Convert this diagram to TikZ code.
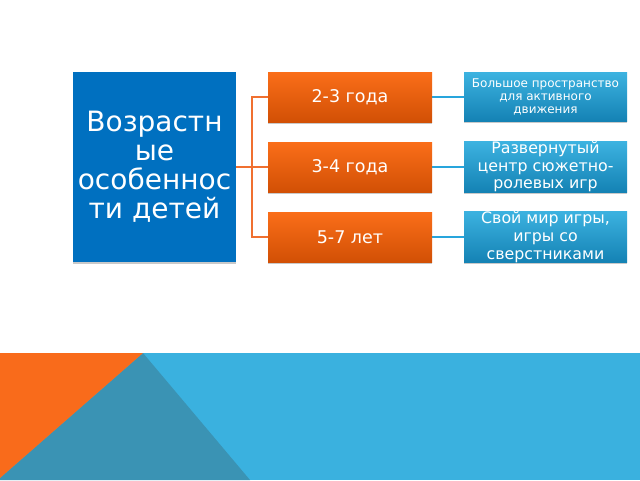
\documentclass[tikz,border=0pt]{standalone}
\usepackage{fontspec}
\setmainfont{DejaVu Sans}
\usetikzlibrary{shadows,backgrounds}
\pgfdeclarelayer{back}
\pgfsetlayers{back,background,main}
\definecolor{mainblue}{RGB}{0,112,192}
\definecolor{orangetop}{RGB}{250,110,25}
\definecolor{orangebot}{RGB}{210,80,5}
\definecolor{bluetop}{RGB}{60,178,224}
\definecolor{bluebot}{RGB}{20,130,180}
\definecolor{orangeline}{RGB}{240,112,48}
\definecolor{blueline}{RGB}{40,165,220}
\definecolor{bandblue}{RGB}{58,177,223}
\definecolor{bandteal}{RGB}{58,147,180}
\definecolor{bandorange}{RGB}{249,107,27}
\tikzset{
  boxshadow/.style={drop shadow={shadow xshift=0pt, shadow yshift=-1.5pt, opacity=0.35, fill=black!60}},
  mainbox/.style={fill=mainblue, text=white, minimum width=163pt, minimum height=190pt, inner sep=0pt, align=center, font=\fontsize{28}{29}\selectfont, boxshadow},
  agebox/.style={top color=orangetop, bottom color=orangebot, text=white, minimum width=164pt, minimum height=50pt, inner sep=0pt, align=center, font=\fontsize{17.5}{19}\selectfont, boxshadow},
  notebox/.style={top color=bluetop, bottom color=bluebot, text=white, minimum width=163pt, minimum height=49pt, inner sep=0pt, align=center, boxshadow},
  oline/.style={color=orangeline, line width=1.6pt},
  bline/.style={color=blueline, line width=1.6pt}
}
\begin{document}
\begin{tikzpicture}[x=1pt,y=-1pt]
\useasboundingbox (0,0) rectangle (640,480);
\begin{pgfonlayer}{back}
\fill[white] (0,0) rectangle (640,480);
\fill[bandblue] (0,353) rectangle (640,480);
\fill[bandteal] (143,353) -- (250,480) -- (0,480) -- (0,478) -- cycle;
\fill[bandorange] (0,353) -- (143,353) -- (0,478) -- cycle;
\end{pgfonlayer}
% nodes
\node[mainbox] (L) at (154.5,167) {Возрастн\\ые\\особеннос\\ти детей};
\node[agebox] (O1) at (350,97) {2-3 года};
\node[agebox] (O2) at (350,167) {3-4 года};
\node[agebox] (O3) at (350,237) {5-7 лет};
\node[notebox, font=\fontsize{12}{13}\selectfont] (B1) at (545.5,97) {Большое пространство\\для активного\\движения};
\node[notebox, font=\fontsize{15.8}{17.5}\selectfont] (B2) at (545.5,167) {Развернутый\\центр сюжетно-\\ролевых игр};
\node[notebox, font=\fontsize{15.8}{18}\selectfont] (B3) at (545.5,237) {Свой мир игры,\\игры со\\сверстниками};
% connectors
\begin{scope}[on background layer]
\coordinate (J) at (252,167);
\draw[oline] (L.east) -- (J);
\draw[oline] (J) |- (O1.west);
\draw[oline] (J) |- (O3.west);
\draw[oline] (J) -- (O2.west);
\draw[bline] (O1.east) -- (B1.west);
\draw[bline] (O2.east) -- (B2.west);
\draw[bline] (O3.east) -- (B3.west);
\end{scope}
\end{tikzpicture}
\end{document}
